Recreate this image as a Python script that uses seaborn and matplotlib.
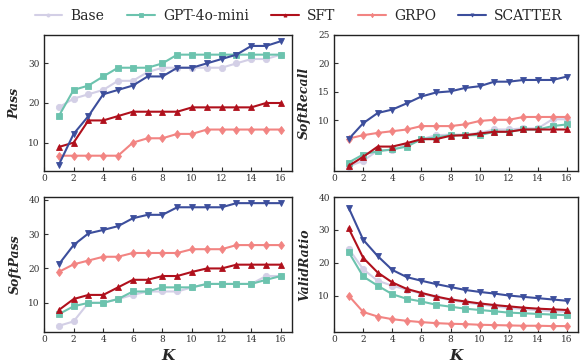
import numpy as np
import pandas as pd
import matplotlib
matplotlib.use("Agg")
import matplotlib.pyplot as plt
import seaborn as sns

K = list(range(1, 17))
methods = ["Base", "GPT-4o-mini", "SFT", "GRPO", "SCATTER"]

pass_base = [18.9, 21.1, 22.2, 23.3, 25.6, 25.6, 27.8, 28.9, 28.9, 28.9, 28.9, 28.9, 30.0, 31.1, 31.1, 32.2]
pass_gpt = [16.7, 23.3, 24.4, 26.7, 28.9, 28.9, 28.9, 30.0, 32.2, 32.2, 32.2, 32.2, 32.2, 32.2, 32.2, 32.2]
pass_sft = [8.9, 10.0, 15.6, 15.6, 16.7, 17.8, 17.8, 17.8, 17.8, 18.9, 18.9, 18.9, 18.9, 18.9, 20.0, 20.0]
pass_grpo = [6.7, 6.7, 6.7, 6.7, 6.7, 10.0, 11.1, 11.1, 12.2, 12.2, 13.3, 13.3, 13.3, 13.3, 13.3, 13.3]
pass_scatter = [4.4, 12.2, 16.7, 22.2, 23.3, 24.4, 26.7, 26.7, 28.9, 28.9, 30.0, 31.1, 32.2, 34.4, 34.4, 35.6]

recall_base = [1.9, 2.9, 4.7, 4.8, 5.7, 6.7, 7.4, 7.5, 7.5, 7.8, 8.4, 8.4, 8.6, 8.6, 10.2, 10.2]
recall_gpt = [2.6, 4.0, 4.6, 4.9, 5.4, 6.7, 7.0, 7.4, 7.4, 7.4, 8.0, 8.0, 8.4, 8.4, 9.0, 9.3]
recall_sft = [2.0, 3.6, 5.4, 5.4, 6.0, 6.7, 6.7, 7.3, 7.4, 7.7, 8.0, 8.0, 8.4, 8.4, 8.4, 8.4]
recall_grpo = [6.8, 7.4, 7.8, 8.1, 8.4, 9.0, 9.0, 9.0, 9.3, 9.9, 10.1, 10.1, 10.6, 10.6, 10.6, 10.6]
recall_scatter = [6.7, 9.5, 11.3, 11.9, 13.0, 14.2, 14.9, 15.1, 15.7, 16.0, 16.8, 16.8, 17.1, 17.1, 17.1, 17.7]

softpass_base = [3.3, 4.6, 10.0, 10.0, 11.1, 12.3, 13.3, 13.3, 13.3, 14.5, 15.5, 15.5, 15.5, 15.5, 17.8, 17.8]
softpass_gpt = [6.7, 9.0, 10.0, 10.0, 11.1, 13.3, 13.3, 14.5, 14.5, 14.5, 15.5, 15.5, 15.5, 15.5, 16.7, 17.8]
softpass_sft = [7.9, 11.1, 12.3, 12.3, 14.5, 16.7, 16.7, 17.8, 17.8, 19.0, 20.0, 20.0, 21.1, 21.1, 21.1, 21.1]
softpass_grpo = [19.0, 21.2, 22.3, 23.4, 23.4, 24.5, 24.5, 24.5, 24.5, 25.6, 25.6, 25.6, 26.8, 26.8, 26.8, 26.8]
softpass_scatter = [21.2, 26.8, 30.2, 31.2, 32.3, 34.6, 35.6, 35.6, 37.8, 37.8, 37.8, 37.8, 39.0, 39.0, 39.0, 39.0]

valid_base = [24.3, 18.0, 14.5, 13.0, 11.8, 10.6, 9.5, 8.6, 7.9, 7.3, 6.7, 6.2, 5.9, 5.5, 5.2, 5.0]
valid_gpt = [23.3, 15.8, 13.0, 10.4, 9.0, 8.2, 7.2, 6.6, 6.0, 5.6, 5.2, 4.8, 4.6, 4.4, 4.2, 4.0]
valid_sft = [30.5, 21.5, 17.0, 14.0, 12.0, 10.8, 9.7, 8.8, 8.2, 7.6, 7.1, 6.7, 6.3, 6.0, 5.8, 5.6]
valid_grpo = [10.0, 5.0, 3.6, 2.8, 2.3, 1.9, 1.6, 1.4, 1.3, 1.1, 1.0, 0.9, 0.8, 0.8, 0.7, 0.7]
valid_scatter = [36.8, 27.0, 22.0, 17.8, 15.6, 14.5, 13.5, 12.6, 11.7, 11.1, 10.6, 10.0, 9.6, 9.2, 8.8, 8.4]

panels = [
    ("Pass", [pass_base, pass_gpt, pass_sft, pass_grpo, pass_scatter], [10, 20, 30], None),
    ("SoftRecall", [recall_base, recall_gpt, recall_sft, recall_grpo, recall_scatter], [10, 15, 20, 25], 25),
    ("SoftPass", [softpass_base, softpass_gpt, softpass_sft, softpass_grpo, softpass_scatter], [10, 20, 30, 40], None),
    ("ValidRatio", [valid_base, valid_gpt, valid_sft, valid_grpo, valid_scatter], [10, 20, 30, 40], 40),
]

colors = ["#d3cfe6", "#6cc3ae", "#b0101c", "#f28482", "#3c4e9c"]
markers = ["o", "s", "^", "d", "v"]
xticks = [0, 2, 4, 6, 8, 10, 12, 14, 16]

sns.set_theme(style="ticks")
plt.rcParams["font.family"] = ["DejaVu Serif"]
plt.rcParams["axes.linewidth"] = 1.0

fig, axes = plt.subplots(2, 2, figsize=(5.8, 3.63), dpi=100)
axes = axes.ravel()

rects = [
    (44 / 580, (363 - 171) / 363, 248 / 580, 136 / 363),
    (334 / 580, (363 - 171) / 363, 244 / 580, 136 / 363),
    (44 / 580, (363 - 332) / 363, 248 / 580, 135 / 363),
    (334 / 580, (363 - 332) / 363, 244 / 580, 135 / 363),
]

for i, (ax, (name, series, yt, ytop)) in enumerate(zip(axes, panels)):
    ax.set_position(rects[i])
    for m, vals, c, mk in zip(methods, series, colors, markers):
        df = pd.DataFrame({"K": K, "v": vals})
        sns.lineplot(data=df, x="K", y="v", ax=ax, color=c, marker=mk,
                     markersize=4.5, linewidth=1.5, markeredgewidth=0.6,
                     markeredgecolor=c, label=m, legend=False)
    ax.set_xlim(left=0)
    if ytop is not None:
        ax.set_ylim(top=ytop)
    ax.set_yticks(yt)
    ax.set_xticks(xticks)
    ax.tick_params(axis="both", direction="in", labelsize=6.5, length=3, width=0.8,
                   pad=3, colors="#333333")
    ax.tick_params(axis="x", pad=2.5)
    ax.set_ylabel(name, fontsize=9, fontweight="bold", fontstyle="italic", labelpad=5)
    if i >= 2:
        ax.set_xlabel("K", fontsize=11, fontweight="bold", fontstyle="italic", va="baseline")
        ax.xaxis.set_label_coords(0.5, -0.204)
    else:
        ax.set_xlabel("")
    for s in ax.spines.values():
        s.set_color("#222222")

handles, labels = axes[0].get_legend_handles_labels()
fig.legend(handles, labels, loc="upper center", bbox_to_anchor=(0.515, 1.01), ncol=5,
           frameon=False, fontsize=10, markerscale=0.5, handlelength=2.0,
           columnspacing=1.6, handletextpad=0.6)

fig.savefig("out.png", dpi=100)
